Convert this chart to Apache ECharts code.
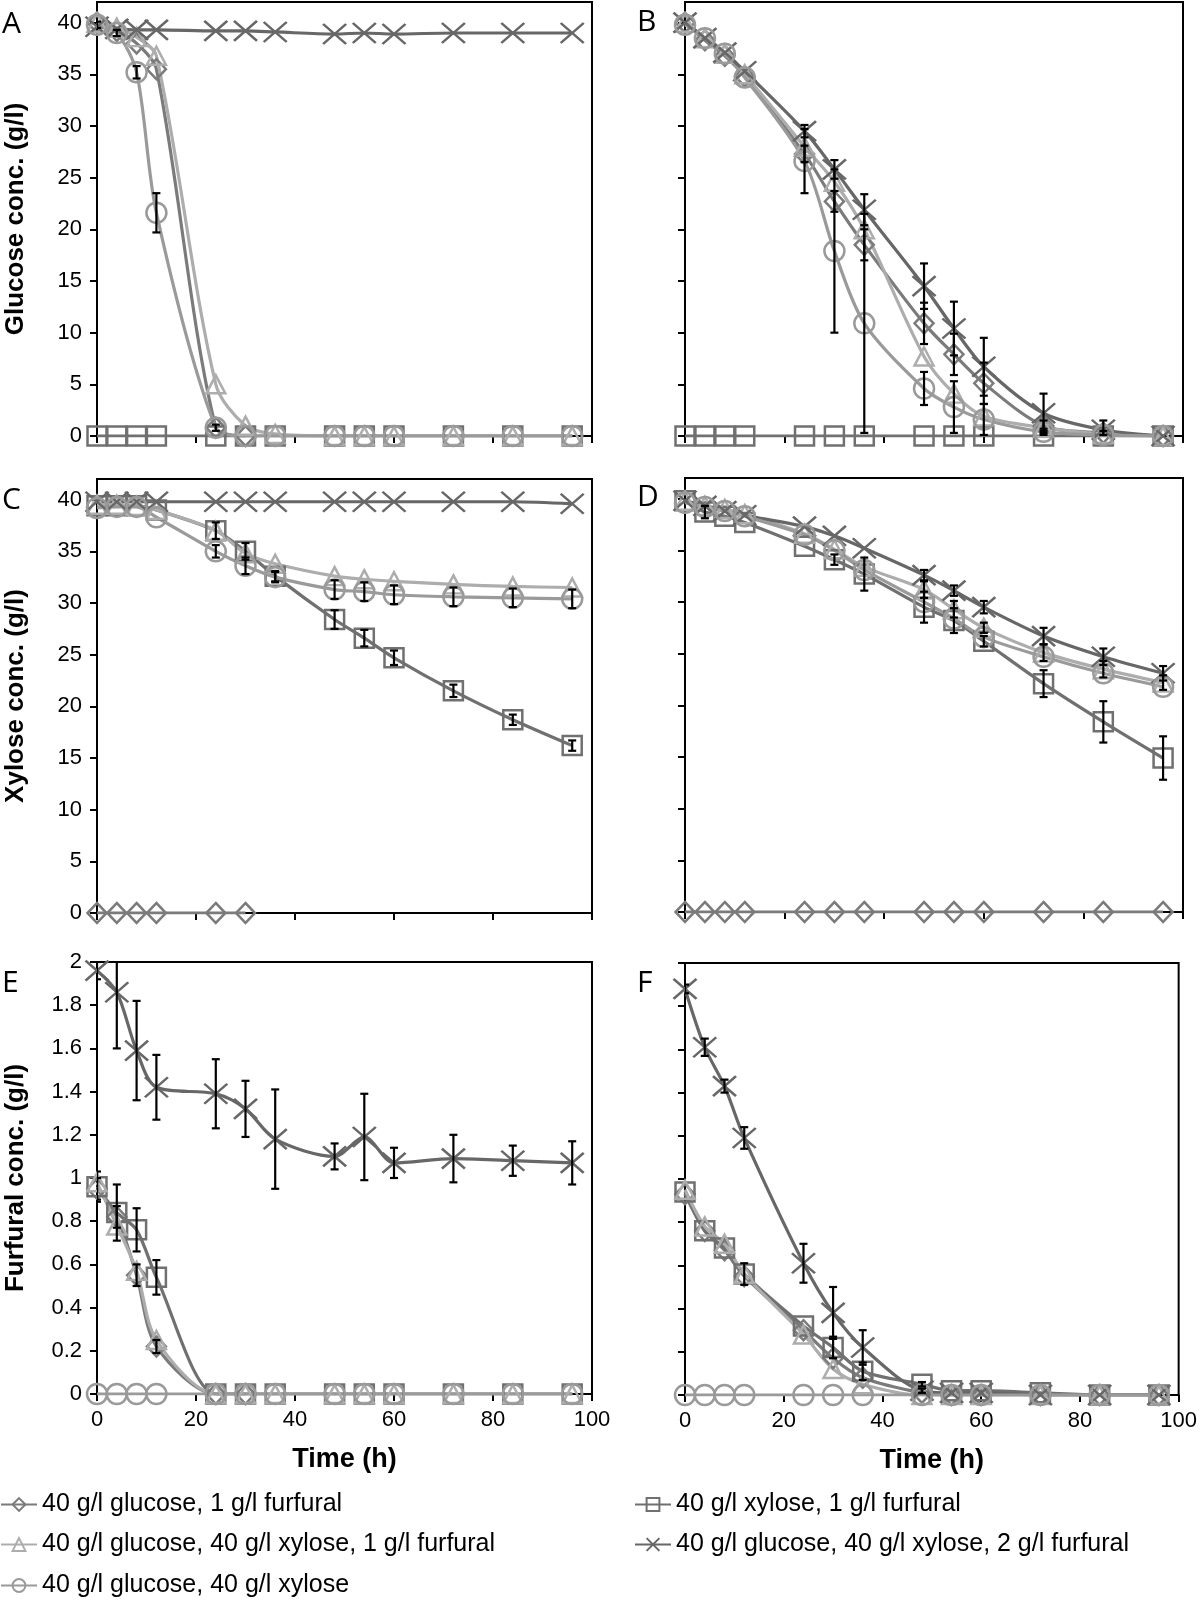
<!DOCTYPE html>
<html>
<head>
<meta charset="utf-8">
<script src="https://cdn.jsdelivr.net/npm/echarts@6/dist/echarts.min.js"></script>
<style>
html,body{margin:0;padding:0;background:#fff;}
#chart{width:1200px;height:1601px;}
</style>
</head>
<body>
<div id="chart"></div>
<script>
// ---------- data ----------
const times = [0, 4, 8, 12, 24, 30, 36, 48, 54, 60, 72, 84, 96];
const timesShort = [0, 4, 8, 12, 24, 30];

const names = {
  dia: "40 g/l glucose, 1 g/l furfural",
  sq: "40 g/l xylose, 1 g/l furfural",
  tri: "40 g/l glucose, 40 g/l xylose, 1 g/l furfural",
  x: "40 g/l glucose, 40 g/l xylose, 2 g/l furfural",
  cir: "40 g/l glucose, 40 g/l xylose"
};

const sugarTicks = [0, 5, 10, 15, 20, 25, 30, 35, 40];

// Panel A - glucose
const A_dia = [40.0, 39.2, 38.0, 35.5, 0.8, 0.0];
const A_sq  = [0, 0, 0, 0, 0, 0, 0, 0, 0, 0, 0, 0, 0];
const A_tri = [40.0, 39.5, 38.6, 36.8, 5.0, 1.0, 0.2, 0, 0, 0, 0, 0, 0];
const A_x   = [39.6, 39.4, 39.3, 39.3, 39.2, 39.2, 39.1, 38.9, 39.0, 38.9, 39.0, 39.0, 39.0];
const A_cir = [39.8, 39.0, 35.2, 21.6, 0.8, 0.0, 0, 0, 0, 0, 0, 0, 0];
const A_cir_err = [0.3, 0.3, 0.6, 1.9, 0.3, 0, 0, 0, 0, 0, 0, 0, 0];

// Panel B - glucose
const B_dia = [40.0, 38.3, 36.8, 34.8, 27.3, 22.7, 18.5, 10.9, 7.9, 5.1, 1.0, 0.3, 0.0];
const B_sq  = [0, 0, 0, 0, 0, 0, 0, 0, 0, 0, 0, 0, 0];
const B_tri = [40.0, 38.5, 37.0, 35.0, 28.0, 24.6, 20.0, 7.7, 4.1, 1.9, 0.8, 0.2, 0.0];
const B_x   = [40.0, 38.5, 37.1, 35.3, 29.5, 25.8, 21.9, 14.5, 10.4, 6.7, 2.2, 0.6, 0.0];
const B_cir = [39.8, 38.5, 37.0, 34.7, 26.6, 17.9, 10.9, 4.6, 2.8, 1.6, 0.4, 0.1, 0.0];
const B_dia_err = [0, 0, 0, 0, 0.8, 1.0, 1.5, 2.0, 2.0, 2.0, 0.5, 0.2, 0];
const B_x_err   = [0, 0, 0, 0, 0.6, 0.9, 1.5, 2.2, 2.6, 2.8, 1.9, 0.9, 0];
const B_cir_err = [0, 0, 0, 0, 3.1, 7.9, 10.6, 1.6, 2.5, 1.5, 0.3, 0, 0];

// Panel C - xylose
const C_dia = [0, 0, 0, 0, 0, 0];
const C_sq  = [39.4, 39.4, 39.4, 39.0, 37.0, 35.0, 32.6, 28.4, 26.6, 24.7, 21.5, 18.7, 16.2];
const C_tri = [39.5, 39.5, 39.4, 39.0, 37.0, 34.8, 33.8, 32.6, 32.3, 32.1, 31.8, 31.6, 31.5];
const C_x   = [39.8, 39.8, 39.8, 39.8, 39.8, 39.8, 39.8, 39.8, 39.8, 39.8, 39.8, 39.8, 39.6];
const C_cir = [39.2, 39.3, 39.3, 38.3, 35.0, 33.6, 32.5, 31.3, 31.1, 30.8, 30.6, 30.5, 30.4];
const C_sq_err  = [0, 0, 0, 0, 0.8, 0.8, 0.5, 0.9, 0.8, 0.7, 0.6, 0.5, 0.5];
const C_cir_err = [0, 0, 0, 0, 0.6, 0.8, 0.5, 0.9, 0.9, 0.9, 0.9, 0.9, 0.9];

// Panel D - xylose
const D_dia = [0, 0, 0, 0, 0, 0, 0, 0, 0, 0, 0, 0, 0];
const D_sq  = [39.8, 38.7, 38.3, 37.7, 35.4, 34.1, 32.7, 29.5, 28.2, 26.2, 22.1, 18.4, 14.9];
const D_tri = [39.8, 39.3, 39.0, 38.5, 36.6, 35.1, 33.4, 31.2, 29.3, 27.5, 25.1, 23.5, 22.2];
const D_x   = [39.8, 39.3, 38.8, 38.4, 37.3, 36.4, 35.2, 32.6, 31.1, 29.5, 26.7, 24.7, 23.1];
const D_cir = [39.6, 39.2, 38.8, 38.3, 36.5, 35.0, 33.1, 30.0, 28.4, 26.6, 24.7, 23.1, 21.8];
const D_sq_err = [0, 0.6, 0, 0, 0, 0.5, 1.6, 1.5, 1.2, 0.5, 1.3, 2.0, 2.1];
const D_x_err  = [0, 0, 0, 0, 0, 0, 0, 0.5, 0.5, 0.6, 0.8, 0.8, 0.7];
const D_tri_err = [0, 0, 0, 0, 0, 0, 0, 0.8, 0.8, 0.5, 0.8, 0.8, 0.7];

// Panel E - furfural
const E_dia = [0.95, 0.82, 0.55, 0.22, 0.0, 0.0];
const E_sq  = [0.96, 0.84, 0.76, 0.54, 0, 0, 0, 0, 0, 0, 0, 0, 0];
const E_tri = [0.98, 0.78, 0.57, 0.25, 0, 0, 0, 0, 0, 0, 0, 0, 0];
const E_x   = [1.96, 1.86, 1.59, 1.42, 1.39, 1.32, 1.18, 1.10, 1.19, 1.07, 1.09, 1.08, 1.07];
const E_cir = [0, 0, 0, 0, 0, 0, 0, 0, 0, 0, 0, 0, 0];
const E_x_err  = [0.04, 0.26, 0.23, 0.15, 0.16, 0.13, 0.23, 0.06, 0.20, 0.07, 0.11, 0.07, 0.10];
const E_sq_err = [0.07, 0.13, 0.10, 0.08, 0, 0, 0, 0, 0, 0, 0, 0, 0];
const E_dia_err = [0.05, 0.05, 0.05, 0.03, 0, 0];

// Panel F - furfural
const F_dia = [0.93, 0.76, 0.67, 0.55, 0.30, 0.17, 0.08, 0.01, 0.0, 0.0, 0.0, 0.0, 0.0];
const F_sq  = [0.94, 0.76, 0.68, 0.56, 0.32, 0.22, 0.11, 0.05, 0.02, 0.02, 0.01, 0.0, 0.0];
const F_tri = [0.95, 0.78, 0.70, 0.56, 0.28, 0.12, 0.05, 0.0, 0.0, 0.0, 0.0, 0.0, 0.0];
const F_x   = [1.88, 1.61, 1.43, 1.19, 0.61, 0.38, 0.22, 0.02, 0.01, 0.01, 0.0, 0.0, 0.0];
const F_cir = [0, 0, 0, 0, 0, 0, 0, 0, 0, 0, 0, 0, 0];
const F_x_err  = [0.02, 0.04, 0.03, 0.05, 0.09, 0.12, 0.08, 0.01, 0, 0, 0, 0, 0];
const F_sq_err = [0, 0, 0, 0.05, 0, 0.05, 0.04, 0.01, 0, 0, 0, 0, 0];

// ---------- styling ----------
const FONT = "'Liberation Sans', Arial, sans-serif";
const styles = {
  dia: {color: '#7b7b7b', symbol: 'diamond', size: [19, 20]},
  sq:  {color: '#707070', symbol: 'rect', size: [19, 19]},
  tri: {color: '#adadad', symbol: 'triangle', size: [19, 18]},
  x:   {color: '#676767', symbol: 'path://M0,0L20,20M20,0L0,20', size: [23, 20]},
  cir: {color: '#9a9a9a', symbol: 'circle', size: [20, 20]}
};

const LX = 97, RX = 685, LW = 495, RW = 498;
const panels = [
  {letter: 'A', left: LX, w: LW, top: 2, height: 434, max: 42, fur: false, ylab: 'Glucose conc. (g/l)', xlab: false, ly: 24,
   s: {dia: [timesShort, A_dia], sq: [times, A_sq], tri: [times, A_tri], x: [times, A_x], cir: [times, A_cir]},
   e: {cir: A_cir_err}},
  {letter: 'B', left: RX, w: RW, top: 2, height: 434, max: 42, fur: false, ylab: null, xlab: false, ly: 22,
   s: {dia: [times, B_dia], sq: [times, B_sq], tri: [times, B_tri], x: [times, B_x], cir: [times, B_cir]},
   e: {dia: B_dia_err, x: B_x_err, cir: B_cir_err}},
  {letter: 'C', left: LX, w: LW, top: 479, height: 434, max: 42, fur: false, ylab: 'Xylose conc. (g/l)', xlab: false, ly: 500,
   s: {dia: [timesShort, C_dia], sq: [times, C_sq], tri: [times, C_tri], x: [times, C_x], cir: [times, C_cir]},
   e: {sq: C_sq_err, cir: C_cir_err}},
  {letter: 'D', left: RX, w: RW, top: 478, height: 434, max: 42, fur: false, ylab: null, xlab: false, ly: 497,
   s: {dia: [times, D_dia], sq: [times, D_sq], tri: [times, D_tri], x: [times, D_x], cir: [times, D_cir]},
   e: {sq: D_sq_err, x: D_x_err, tri: D_tri_err}},
  {letter: 'E', left: LX, w: LW, top: 962, height: 432, max: 2, fur: true, ylab: 'Furfural conc. (g/l)', xlab: true, ly: 983,
   s: {dia: [timesShort, E_dia], sq: [times, E_sq], tri: [times, E_tri], x: [times, E_x], cir: [times, E_cir]},
   e: {x: E_x_err, sq: E_sq_err, dia: E_dia_err}},
  {letter: 'F', left: RX, w: RW, top: 963, height: 432, max: 2, fur: true, ylab: null, xlab: true, ly: 983,
   s: {dia: [times, F_dia], sq: [times, F_sq], tri: [times, F_tri], x: [times, F_x], cir: [times, F_cir]},
   e: {x: F_x_err, sq: F_sq_err}}
];

const order = ['dia', 'sq', 'tri', 'x', 'cir'];
const grid = [], xAxis = [], yAxis = [], series = [], graphic = [];

function renderErr(params, api) {
  const x = api.value(0), v = api.value(1), e = api.value(2);
  const top = api.coord([x, v + e]);
  const bot = api.coord([x, v - e]);
  const w = 4;
  const st = {stroke: '#000', lineWidth: 2.2};
  return {type: 'group', children: [
    {type: 'line', shape: {x1: top[0], y1: top[1], x2: bot[0], y2: bot[1]}, style: st},
    {type: 'line', shape: {x1: top[0] - w, y1: top[1], x2: top[0] + w, y2: top[1]}, style: st},
    {type: 'line', shape: {x1: bot[0] - w, y1: bot[1], x2: bot[0] + w, y2: bot[1]}, style: st}
  ]};
}

panels.forEach((p, i) => {
  grid.push({left: p.left, top: p.top, width: p.w, height: p.height,
    show: true, borderColor: '#000', borderWidth: 2, backgroundColor: 'rgba(0,0,0,0)'});
  xAxis.push({
    type: 'value', gridIndex: i, min: 0, max: 100, interval: 20,
    axisLine: {show: true, onZero: false, lineStyle: {color: '#000', width: 2}},
    axisTick: {show: true, inside: false, length: 7, lineStyle: {color: '#000', width: 2}},
    axisLabel: {show: p.xlab, color: '#000', fontSize: 22, fontFamily: FONT, margin: 15},
    splitLine: {show: false},
    name: p.xlab ? 'Time (h)' : '', nameLocation: 'middle', nameGap: 52,
    nameTextStyle: {color: '#000', fontSize: 27, fontWeight: 'bold', fontFamily: FONT}
  });
  const ya = {
    type: 'value', gridIndex: i, min: 0, max: p.max, interval: p.fur ? 0.2 : 5,
    axisLine: {show: true, onZero: false, lineStyle: {color: '#000', width: 2}},
    axisTick: {show: true, inside: false, length: 7, lineStyle: {color: '#000', width: 2}},
    axisLabel: {show: !!p.ylab, color: '#000', fontSize: 22, fontFamily: FONT, margin: 15,
      formatter: p.fur ? undefined : function (v) { return (v % 5 === 0) ? String(v) : ''; }},
    splitLine: {show: false},
    name: p.ylab || '', nameLocation: 'middle', nameGap: 68,
    nameTextStyle: {color: '#000', fontSize: 26, fontWeight: 'bold', fontFamily: FONT}
  };
  if (!p.fur) {
    ya.axisLabel.customValues = sugarTicks;
    ya.axisTick.customValues = sugarTicks;
  }
  yAxis.push(ya);

  order.forEach(k => {
    const st = styles[k];
    const [tt, vv] = p.s[k];
    series.push({
      type: 'line', name: names[k], xAxisIndex: i, yAxisIndex: i,
      data: vv.map((v, j) => [tt[j], v]),
      smooth: 0.3,
      symbol: st.symbol, symbolSize: st.size,
      lineStyle: {color: st.color, width: 3.2},
      itemStyle: {color: 'rgba(255,255,255,0)', borderColor: st.color, borderWidth: 2.5},
      emphasis: {disabled: true}, animation: false, z: 2
    });
  });
  Object.keys(p.e).forEach(k => {
    const [tt, vv] = p.s[k];
    const ee = p.e[k];
    const d = [];
    vv.forEach((v, j) => { if (ee[j] > 0) d.push([tt[j], v, ee[j]]); });
    series.push({
      type: 'custom', xAxisIndex: i, yAxisIndex: i, renderItem: renderErr,
      data: d, encode: {x: 0, y: 1}, clip: true, z: 5, animation: false, silent: true
    });
  });

  graphic.push({type: 'text', x: (i % 2 === 0) ? 2 : 637, y: p.ly,
    style: {text: p.letter, font: "30px 'Open Sans', sans-serif", fill: '#000', verticalAlign: 'middle'}});
});

function leg(name, left, top) {
  return {data: [name], orient: 'vertical', left: left, top: top,
    itemWidth: 36, itemHeight: 16, padding: 0,
    textStyle: {color: '#000', fontSize: 25, fontFamily: FONT}};
}

const chart = echarts.init(document.getElementById('chart'), null, {renderer: 'canvas'});
chart.setOption({
  animation: false,
  backgroundColor: '#fff',
  grid, xAxis, yAxis, series, graphic,
  legend: [
    leg(names.dia, 0, 1492),
    leg(names.tri, 0, 1532),
    leg(names.cir, 0, 1573),
    leg(names.sq, 634, 1492),
    leg(names.x, 634, 1532)
  ]
});
</script>
</body>
</html>
